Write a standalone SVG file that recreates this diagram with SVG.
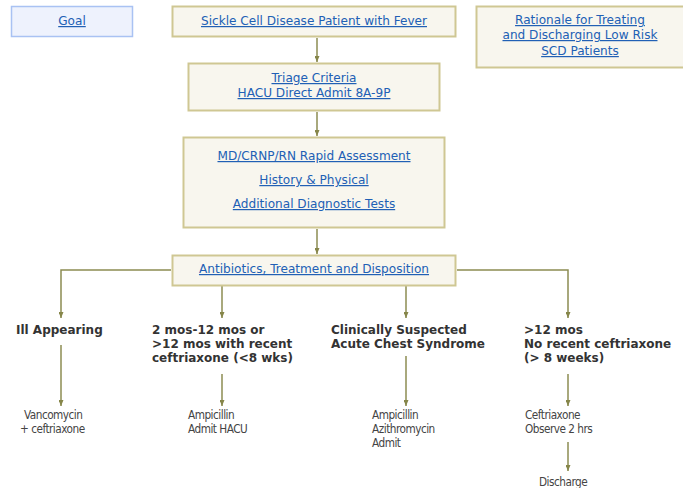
<svg xmlns="http://www.w3.org/2000/svg" width="683" height="488" viewBox="0 0 683 488">
  <defs>
    <marker id="arrow" viewBox="0 0 6 5" refX="6" refY="2.5" markerWidth="6" markerHeight="5" markerUnits="userSpaceOnUse" orient="auto">
      <path d="M0,0 L6,2.5 L0,5 Z" fill="#86864a"/>
    </marker>
  </defs>
  <style>
    .box { fill: #f8f6ee; stroke: #cfc793; stroke-width: 2; }
    .goal { fill: #eef2fd; stroke: #a9c2f3; stroke-width: 1.5; }
    .link { font-family: "DejaVu Sans", Verdana, sans-serif; font-size: 12.1px; fill: #2160b5; text-decoration: underline; text-anchor: middle; }
    .head { font-family: "DejaVu Sans", Verdana, sans-serif; font-size: 12px; font-weight: bold; fill: #333333; }
    .note { font-family: "DejaVu Sans Condensed", "DejaVu Sans", Tahoma, sans-serif; font-size: 11.7px; letter-spacing: -0.5px; fill: #444444; }
    .conn { fill: none; stroke: #8c8c52; stroke-width: 1.5; }
  </style>

  <g id="connectors">
    <path class="conn" d="M317,38 V62" marker-end="url(#arrow)"/>
    <path class="conn" d="M317,112 V136" marker-end="url(#arrow)"/>
    <path class="conn" d="M317,229 V254" marker-end="url(#arrow)"/>
    <path class="conn" d="M171,270 H61 V318" marker-end="url(#arrow)"/>
    <path class="conn" d="M222,286 V318" marker-end="url(#arrow)"/>
    <path class="conn" d="M406,286 V318" marker-end="url(#arrow)"/>
    <path class="conn" d="M457,270 H568 V318" marker-end="url(#arrow)"/>
    <path class="conn" d="M61,345 V406" marker-end="url(#arrow)"/>
    <path class="conn" d="M222,374 V406" marker-end="url(#arrow)"/>
    <path class="conn" d="M406,356 V406" marker-end="url(#arrow)"/>
    <path class="conn" d="M568,374 V406" marker-end="url(#arrow)"/>
    <path class="conn" d="M568,442 V471" marker-end="url(#arrow)"/>
  </g>

  <g id="goal">
    <rect class="goal" x="11.5" y="6.5" width="121" height="30"/>
    <text class="link" x="72" y="25">Goal</text>
  </g>

  <g id="patient">
    <rect class="box" x="172.5" y="6.5" width="283" height="30"/>
    <text class="link" x="314" y="25">Sickle Cell Disease Patient with Fever</text>
  </g>

  <g id="rationale">
    <rect class="box" x="476.5" y="6.5" width="210" height="61"/>
    <text class="link" x="580" y="24">Rationale for Treating</text>
    <text class="link" x="580" y="39">and Discharging Low Risk</text>
    <text class="link" x="580" y="55">SCD Patients</text>
  </g>

  <g id="triage">
    <rect class="box" x="188.5" y="63.5" width="251" height="47"/>
    <text class="link" x="314" y="82">Triage Criteria</text>
    <text class="link" x="314" y="97">HACU Direct Admit 8A-9P</text>
  </g>

  <g id="assessment">
    <rect class="box" x="183.5" y="137.5" width="261" height="90"/>
    <text class="link" x="314" y="160">MD/CRNP/RN Rapid Assessment</text>
    <text class="link" x="314" y="184">History &amp; Physical</text>
    <text class="link" x="314" y="208">Additional Diagnostic Tests</text>
  </g>

  <g id="disposition">
    <rect class="box" x="172.5" y="255.5" width="283" height="30"/>
    <text class="link" x="314" y="273">Antibiotics, Treatment and Disposition</text>
  </g>

  <g id="ill-appearing">
    <text class="head" x="16" y="334">Ill Appearing</text>
  </g>

  <g id="age-recent">
    <text class="head" x="152" y="334">2 mos-12 mos or</text>
    <text class="head" x="152" y="348">&gt;12 mos with recent</text>
    <text class="head" x="152" y="362">ceftriaxone (&lt;8 wks)</text>
  </g>

  <g id="chest-syndrome">
    <text class="head" x="331" y="334">Clinically Suspected</text>
    <text class="head" x="331" y="348">Acute Chest Syndrome</text>
  </g>

  <g id="age-no-recent">
    <text class="head" x="524" y="334">&gt;12 mos</text>
    <text class="head" x="524" y="348">No recent ceftriaxone</text>
    <text class="head" x="524" y="362">(&gt; 8 weeks)</text>
  </g>

  <g id="vancomycin">
    <text class="note" x="24" y="419">Vancomycin</text>
    <text class="note" x="20" y="433">+ ceftriaxone</text>
  </g>

  <g id="ampicillin-hacu">
    <text class="note" x="188" y="419">Ampicillin</text>
    <text class="note" x="188" y="433">Admit HACU</text>
  </g>

  <g id="ampicillin-azithro">
    <text class="note" x="372" y="419">Ampicillin</text>
    <text class="note" x="372" y="433">Azithromycin</text>
    <text class="note" x="372" y="447">Admit</text>
  </g>

  <g id="ceftriaxone">
    <text class="note" x="525" y="419">Ceftriaxone</text>
    <text class="note" x="525" y="433">Observe 2 hrs</text>
  </g>

  <g id="discharge">
    <text class="note" x="539" y="486">Discharge</text>
  </g>
</svg>
